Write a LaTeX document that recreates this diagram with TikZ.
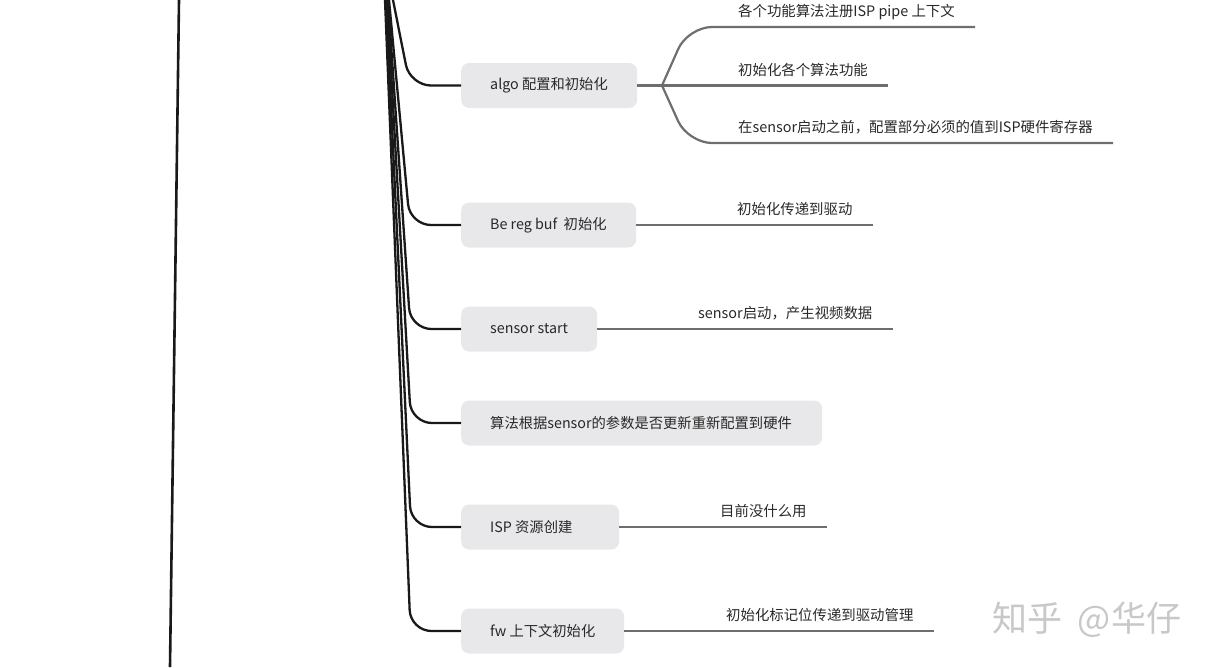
\documentclass[tikz,border=0pt]{standalone}
\usepackage{fontspec}
\setmainfont{Noto Sans CJK SC}
\definecolor{boxfill}{RGB}{232,232,235}
\definecolor{txt}{RGB}{40,40,40}
\definecolor{branch}{RGB}{110,110,110}
\definecolor{wm}{RGB}{200,200,200}
\newcommand{\tb}[2]{\raisebox{-1.5pt}{\makebox[#1pt][l]{#2}}}
\tikzset{
  topic/.style={fill=boxfill, rounded corners=8pt, inner xsep=29pt, inner ysep=0pt,
    minimum height=45pt, anchor=west, text=txt, font=\fontsize{14.3}{16}\selectfont},
  sub/.style={anchor=west, inner sep=0pt, text=txt, font=\fontsize{14.4}{16}\selectfont},
  trunk/.style={draw=black!90, line width=2.3pt, rounded corners=21pt},
  twig/.style={draw=branch, line width=2.2pt, rounded corners=24pt},
}
\begin{document}
\begin{tikzpicture}[x=1pt,y=-1pt]
\useasboundingbox (0,0) rectangle (1215,667);

% left long line
\coordinate (L0) at (179,0);
\coordinate (L1) at (170,667);
\draw[black!90, line width=2.6pt] (L0) -- (L1);

% topics
\node[topic] (algo) at (461,85.5) {\tb{118}{algo 配置和初始化}};
\node[topic] (bereg) at (461,225) {\tb{117}{Be reg buf\ \ 初始化}};
\node[topic] (sens) at (461,329) {\tb{78}{sensor start}};
\node[topic] (alg2) at (461,423) {\tb{303}{算法根据sensor的参数是否更新重新配置到硬件}};
\node[topic] (isp) at (461,527) {\tb{100}{ISP 资源创建}};
\node[topic] (fw) at (461,631) {\tb{105}{fw 上下文初始化}};

% trunk connectors
\coordinate (t1) at (393,0);   \coordinate (k1) at (410,85.5);
\coordinate (t2) at (389,0);   \coordinate (k2) at (410,225);
\coordinate (t3) at (388,0);   \coordinate (k3) at (410.5,329);
\coordinate (t4) at (387,0);   \coordinate (k4) at (411,423);
\coordinate (t5) at (386,0);   \coordinate (k5) at (411,527);
\coordinate (t6) at (385,0);   \coordinate (k6) at (410.5,631);
\draw[trunk] (t1) -- (k1) -- (algo.west);
\draw[trunk] (t2) -- (k2) -- (bereg.west);
\draw[trunk] (t3) -- (k3) -- (sens.west);
\draw[trunk] (t4) -- (k4) -- (alg2.west);
\draw[trunk] (t5) -- (k5) -- (isp.west);
\draw[trunk] (t6) -- (k6) -- (fw.west);

% algo children
\coordinate (bp) at (662,85.5);
\coordinate (ca) at (688,27);  \coordinate (ea) at (975,27);
\coordinate (eb) at (888,85.5);
\coordinate (cc) at (688,143); \coordinate (ec) at (1113,143);
\draw[twig] (algo.east) -- (bp);
\draw[twig] (bp) -- (ca) -- (ea);
\draw[twig] (bp) -- (eb);
\draw[twig] (bp) -- (cc) -- (ec);
\node[sub] (sa) at (738,12) {各个功能算法注册ISP pipe 上下文};
\node[sub] (sb) at (738,70) {初始化各个算法功能};
\node[sub] (sc) at (738,127.5) {在sensor启动之前，配置部分必须的值到ISP硬件寄存器};

% other children
\coordinate (e2) at (873,225);
\draw[twig] (bereg.east) -- (e2);
\node[sub] (s2) at (737,209) {初始化传递到驱动};

\coordinate (e3) at (893,329);
\draw[twig] (sens.east) -- (e3);
\node[sub] (s3) at (698,313) {sensor启动，产生视频数据};

\coordinate (e5) at (827,527);
\draw[twig] (isp.east) -- (e5);
\node[sub] (s5) at (720,511) {目前没什么用};

\coordinate (e6) at (934,631);
\draw[twig] (fw.east) -- (e6);
\node[sub] (s6) at (726,615) {初始化标记位传递到驱动管理};

% watermark
\node[anchor=west, inner sep=0pt, text=wm, font=\fontsize{35}{38}\selectfont] (wmk) at (992,620) {知乎\ \ @华仔};
\end{tikzpicture}
\end{document}
